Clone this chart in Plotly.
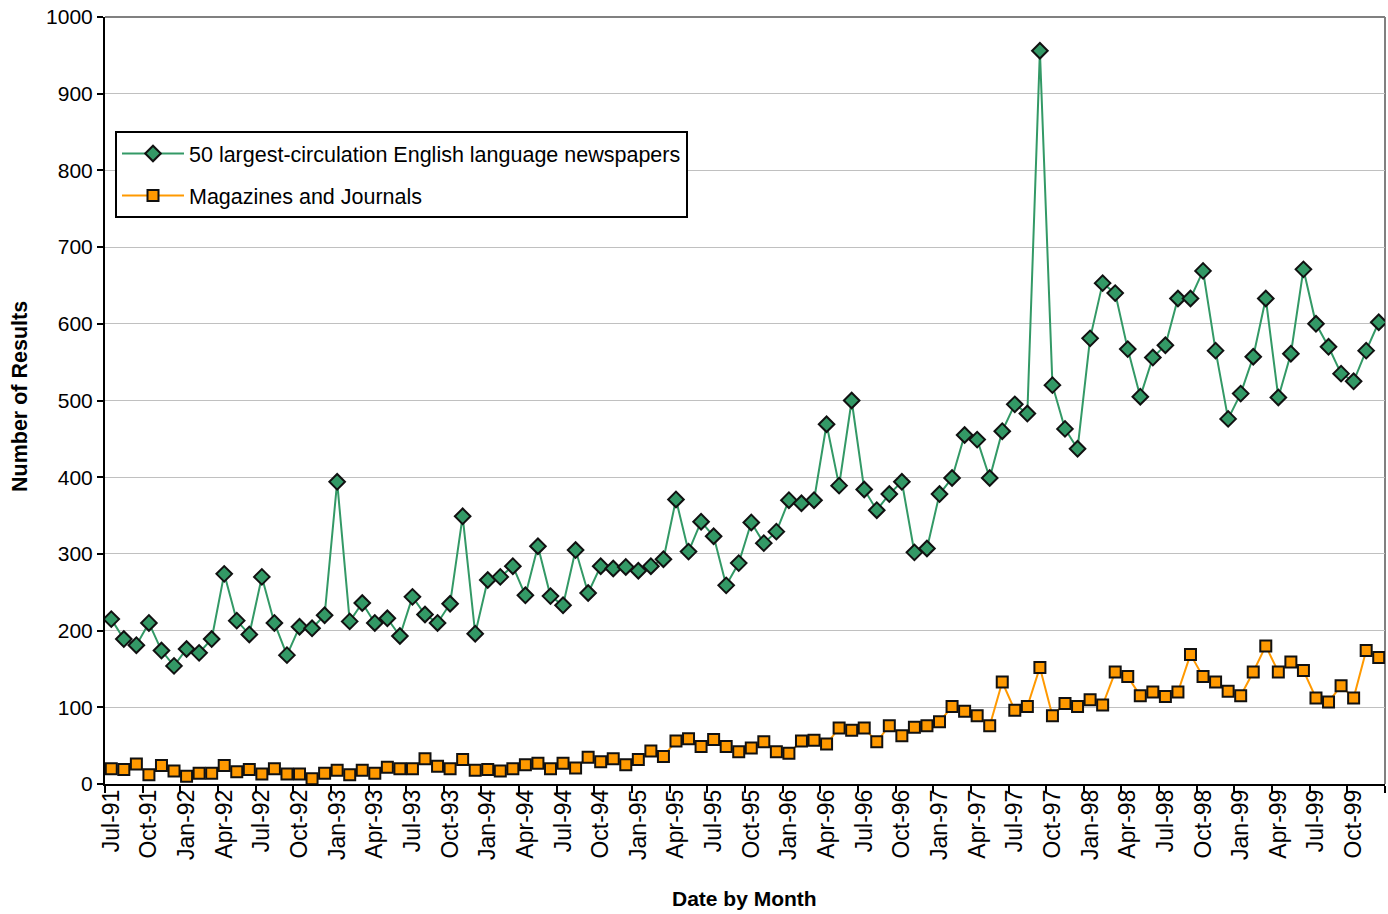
import plotly.graph_objects as go
import pandas as pd

# Categories: one per month, Jul-1991 .. Dec-1999
months = [d.strftime("%b-%y") for d in pd.date_range("1991-07-01", "1999-12-01", freq="MS")]

newspapers = [
    215, 189, 181, 210, 174, 154, 176, 171, 189, 274,
    213, 195, 270, 210, 168, 205, 203, 220, 394, 212,
    236, 210, 216, 193, 244, 221, 210, 235, 349, 196,
    266, 270, 284, 246, 310, 245, 233, 305, 249, 284,
    281, 283, 278, 284, 293, 371, 303, 342, 323, 259,
    288, 341, 314, 329, 370, 366, 370, 469, 389, 500,
    384, 357, 378, 394, 302, 307, 378, 399, 455, 449,
    399, 460, 495, 483, 956, 520, 463, 437, 581, 653,
    640, 567, 505, 556, 572, 633, 633, 669, 565, 476,
    509, 557, 633, 504, 561, 671, 600, 570, 535, 525,
    565, 602,
]

magazines = [
    20, 19, 26, 12, 24, 17, 10, 14, 14, 24,
    16, 19, 13, 20, 13, 13, 7, 14, 18, 12,
    18, 14, 22, 20, 20, 33, 23, 20, 32, 18,
    19, 17, 20, 25, 27, 20, 27, 21, 35, 29,
    33, 25, 32, 43, 36, 56, 59, 49, 58, 49,
    42, 47, 55, 42, 40, 56, 57, 52, 73, 70,
    73, 55, 76, 63, 74, 76, 81, 101, 95, 89,
    76, 133, 96, 101, 152, 89, 105, 101, 110, 103,
    146, 140, 115, 120, 114, 120, 169, 140, 133, 121,
    115, 146, 180, 146, 159, 148, 112, 107, 128, 112,
    174, 165,
]

tick_labels = [
    "Jul-91", "Oct-91", "Jan-92", "Apr-92", "Jul-92", "Oct-92", "Jan-93", "Apr-93",
    "Jul-93", "Oct-93", "Jan-94", "Apr-94", "Jul-94", "Oct-94", "Jan-95", "Apr-95",
    "Jul-95", "Oct-95", "Jan-96", "Apr-96", "Jul-96", "Oct-96", "Jan-97", "Apr-97",
    "Jul-97", "Oct-97", "Jan-98", "Apr-98", "Jul-98", "Oct-98", "Jan-99", "Apr-99",
    "Jul-99", "Oct-99",
]

y_ticks = [0, 100, 200, 300, 400, 500, 600, 700, 800, 900, 1000]

name_news = "50 largest-circulation English language newspapers"
name_mag = "Magazines and Journals"

FONT = "Liberation Sans, Arial, sans-serif"
GREEN = "#339966"
ORANGE = "#FF9900"

x_idx = list(range(len(months)))

fig = go.Figure()
fig.add_trace(go.Scatter(
    x=x_idx, y=newspapers, name=name_news, mode="lines+markers",
    line=dict(color=GREEN, width=2),
    marker=dict(symbol="diamond", size=12, color=GREEN, line=dict(color="#111111", width=2)),
    legendgroup="a", customdata=months,
))
fig.add_trace(go.Scatter(
    x=x_idx, y=magazines, name=name_mag, mode="lines+markers",
    line=dict(color=ORANGE, width=2),
    marker=dict(symbol="square", size=11, color=ORANGE, line=dict(color="#111111", width=2)),
    legendgroup="b", customdata=months,
))

# tick marks at category boundaries every 3 months
tick_pos = [i - 0.5 for i in range(0, len(months) + 1, 3)]
# labels at the centre of the first category of each quarter (overlaid axis)
label_pos = list(range(0, len(months), 3))

fig.add_trace(go.Scatter(
    x=[0, len(months) - 1], y=[0, 0], xaxis="x2", yaxis="y", mode="markers",
    marker=dict(opacity=0), showlegend=False, hoverinfo="skip",
))

fig.update_layout(
    width=1388, height=914,
    margin=dict(l=105, r=3, t=17, b=130, autoexpand=False),
    paper_bgcolor="white", plot_bgcolor="white",
    font=dict(family=FONT, size=21, color="black"),
    showlegend=True,
    legend=dict(
        x=(115 - 105) / 1280, y=(784 - 131) / 767, xanchor="left", yanchor="top",
        bgcolor="white", bordercolor="black", borderwidth=2,
        font=dict(family=FONT, size=21.5, color="black"),
        traceorder="grouped", tracegroupgap=11, itemwidth=62,
    ),
    xaxis=dict(
        range=[-0.5, len(months) - 0.5], tickmode="array",
        tickvals=tick_pos, showticklabels=False,
        ticks="outside", ticklen=7, tickwidth=2, tickcolor="black",
        showline=True, linecolor="black", linewidth=2, showgrid=False, zeroline=False,
    ),
    xaxis2=dict(
        range=[-0.5, len(months) - 0.5], overlaying="x", anchor="y", side="bottom",
        tickmode="array", tickvals=label_pos, ticktext=tick_labels, tickangle=-90,
        ticks="", showline=False, showgrid=False, zeroline=False,
        tickfont=dict(family=FONT, size=23, color="black"),
    ),
    yaxis=dict(
        range=[0, 1000], tickmode="array", tickvals=y_ticks,
        ticks="outside", ticklen=6, tickwidth=2, tickcolor="black",
        showline=True, linecolor="black", linewidth=2,
        showgrid=True, gridcolor="#C0C0C0", gridwidth=1, zeroline=False,
        tickfont=dict(family=FONT, size=21, color="black"),
    ),
    shapes=[
        dict(type="line", xref="paper", yref="paper", x0=0, x1=1, y0=1, y1=1,
             line=dict(color="#808080", width=2), layer="below"),
        dict(type="line", xref="paper", yref="paper", x0=1, x1=1, y0=0, y1=1,
             line=dict(color="#808080", width=2), layer="below"),
    ],
    annotations=[
        dict(text="<b>Number of Results</b>", textangle=-90, xref="paper", yref="paper",
             x=(20 - 105) / 1280, y=(784 - 397) / 767, xanchor="center", yanchor="middle",
             showarrow=False, font=dict(family=FONT, size=21.5, color="black")),
        dict(text="<b>Date by Month</b>", xref="paper", yref="paper",
             x=(744 - 105) / 1280, y=(784 - 898) / 767, xanchor="center", yanchor="middle",
             showarrow=False, font=dict(family=FONT, size=21, color="black")),
    ],
)

fig.write_html("out.html")
